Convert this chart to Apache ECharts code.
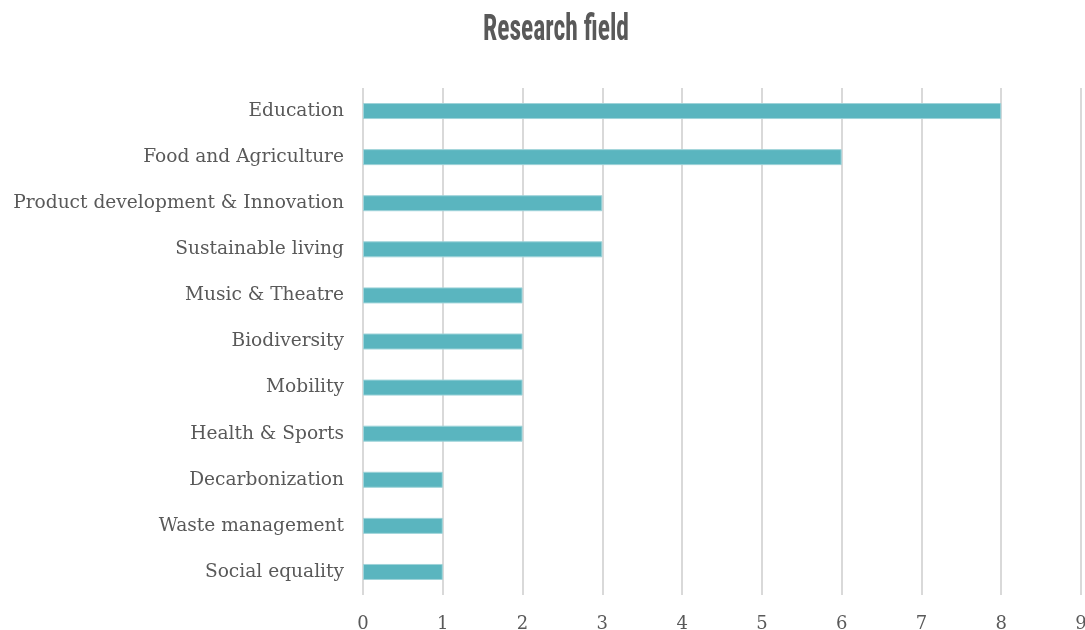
<!DOCTYPE html>
<html>
<head>
<meta charset="utf-8">
<script src="https://cdn.jsdelivr.net/npm/echarts@6/dist/echarts.min.js"></script>
<style>
  html, body { margin: 0; padding: 0; background: #ffffff; }
  #chart { width: 1085px; height: 630px; }
</style>
</head>
<body>
<div id="chart"></div>
<script>
// Research fields, listed top to bottom
const categories = [
  'Education',
  'Food and Agriculture',
  'Product development & Innovation',
  'Sustainable living',
  'Music & Theatre',
  'Biodiversity',
  'Mobility',
  'Health & Sports',
  'Decarbonization',
  'Waste management',
  'Social equality'
];
const counts = [8, 6, 3, 3, 2, 2, 2, 2, 1, 1, 1];
const chartTitle = 'Research field';

const serif = '"DejaVu Serif", "Liberation Serif", serif';

const chart = echarts.init(document.getElementById('chart'));
chart.setOption({
  animation: false,
  backgroundColor: '#ffffff',
  // condensed heading, narrowed horizontally around its centre
  graphic: [{
    type: 'text',
    x: 556,
    y: 31,
    scaleX: 0.71,
    style: {
      text: chartTitle,
      fontFamily: '"Liberation Sans Narrow", "Roboto Condensed", sans-serif',
      fontWeight: 'bold',
      fontSize: 36,
      fill: '#595959',
      align: 'center',
      verticalAlign: 'middle'
    }
  }],
  grid: {
    left: 363, right: 4, top: 88, bottom: 35,
    outerBoundsMode: 'none'
  },
  xAxis: {
    type: 'value',
    min: 0,
    max: 9,
    interval: 1,
    axisLine: { show: false },
    axisTick: { show: false },
    splitLine: { lineStyle: { color: '#d9d9d9', width: 2 } },
    axisLabel: {
      margin: 20,
      fontFamily: serif,
      fontSize: 18,
      color: '#595959'
    }
  },
  yAxis: {
    type: 'category',
    inverse: true,
    data: categories,
    axisLine: { show: false },
    axisTick: { show: false },
    axisLabel: {
      margin: 19,
      fontFamily: serif,
      fontSize: 18.6,
      color: '#595959'
    }
  },
  series: [{
    type: 'bar',
    data: counts,
    barWidth: 16,
    itemStyle: {
      color: '#5ab5bf',
      borderColor: '#9ed3d9',
      borderWidth: 1
    }
  }]
});
</script>
</body>
</html>
